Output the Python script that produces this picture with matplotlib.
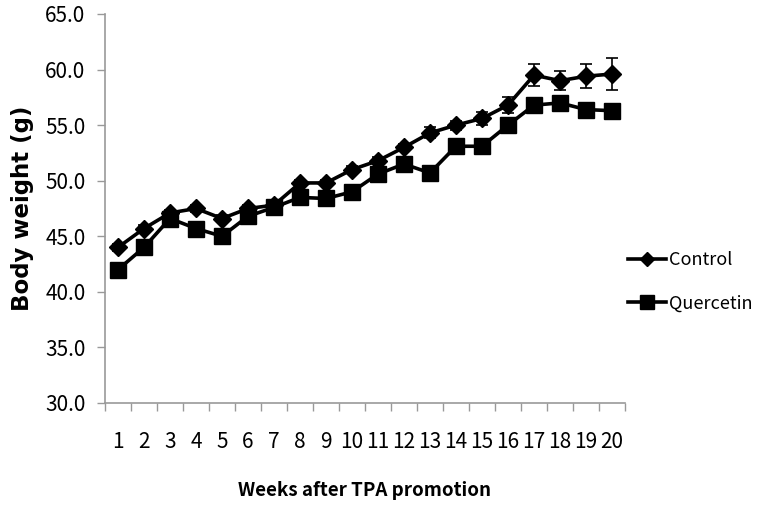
import matplotlib
matplotlib.use("Agg")
import matplotlib.pyplot as plt
from matplotlib.lines import Line2D
import numpy as np

# Body weight over weeks after TPA promotion
weeks = list(range(1, 21))
control = [44.0, 45.7, 47.1, 47.5, 46.6, 47.5, 47.8, 49.8, 49.8, 51.0,
           51.8, 53.0, 54.3, 55.0, 55.6, 56.8, 59.5, 59.0, 59.4, 59.6]
control_err = [0.3, 0.3, 0.3, 0.3, 0.3, 0.3, 0.3, 0.3, 0.3, 0.3,
               0.3, 0.3, 0.5, 0.4, 0.6, 0.75, 1.0, 0.85, 1.1, 1.4]
quercetin = [42.0, 44.0, 46.6, 45.7, 45.0, 46.8, 47.6, 48.5, 48.4, 49.0,
             50.6, 51.5, 50.7, 53.1, 53.1, 55.0, 56.8, 57.0, 56.4, 56.3]
quercetin_err = [0.3] * 20
y_ticks = [30, 35, 40, 45, 50, 55, 60, 65]

plt.rcParams['font.family'] = ['Noto Sans CJK KR', 'DejaVu Sans']

fig = plt.figure(figsize=(7.58, 5.09), dpi=100)
ax = fig.add_axes([105 / 758, 1 - 403 / 509, 520 / 758, 389 / 509])

x = np.arange(len(weeks))
ax.errorbar(x, control, yerr=control_err, color='black', lw=2.6,
            marker='D', ms=9.5, capsize=4, elinewidth=1.2, capthick=1.2)
ax.errorbar(x, quercetin, yerr=quercetin_err, color='black', lw=2.6,
            marker='s', ms=11.5, capsize=4, elinewidth=1.2, capthick=1.2)

ax.set_xlim(-0.5, len(weeks) - 0.5)
ax.set_ylim(30, 65)
ax.set_yticks(y_ticks)
ax.set_yticklabels([f'{v:.1f}' for v in y_ticks], fontsize=15)
ax.set_xticks(x)
ax.set_xticklabels([str(w) for w in weeks], fontsize=15)
ax.set_xticks(np.arange(-0.5, len(weeks)), minor=True)
ax.tick_params(axis='x', which='major', length=0, pad=20)
ax.tick_params(axis='x', which='minor', length=6, color='#999999', width=1)
ax.tick_params(axis='y', length=6, color='#999999', width=1, pad=8)

for side in ['top', 'right']:
    ax.spines[side].set_visible(False)
for side in ['left', 'bottom']:
    ax.spines[side].set_color('#999999')
    ax.spines[side].set_linewidth(1.2)

ax.set_xlabel('Weeks after TPA promotion', fontsize=13.5, fontweight='bold', labelpad=20)
ax.set_ylabel('Body weight (g)', fontsize=16.5, fontweight='bold', labelpad=8,
              family=['DejaVu Sans'])

# legend handles without error bars
handles = [Line2D([], [], color='black', lw=2.6, marker='D', ms=7.5),
           Line2D([], [], color='black', lw=2.6, marker='s', ms=10)]
fig.legend(handles, ['Control', 'Quercetin'], loc='center left',
           bbox_to_anchor=(628 / 758, 1 - 282 / 509),
           frameon=False, fontsize=13, handlelength=2.1, handletextpad=0.15,
           labelspacing=1.4, borderpad=0, borderaxespad=0)

fig.savefig('out.png', dpi=100)
